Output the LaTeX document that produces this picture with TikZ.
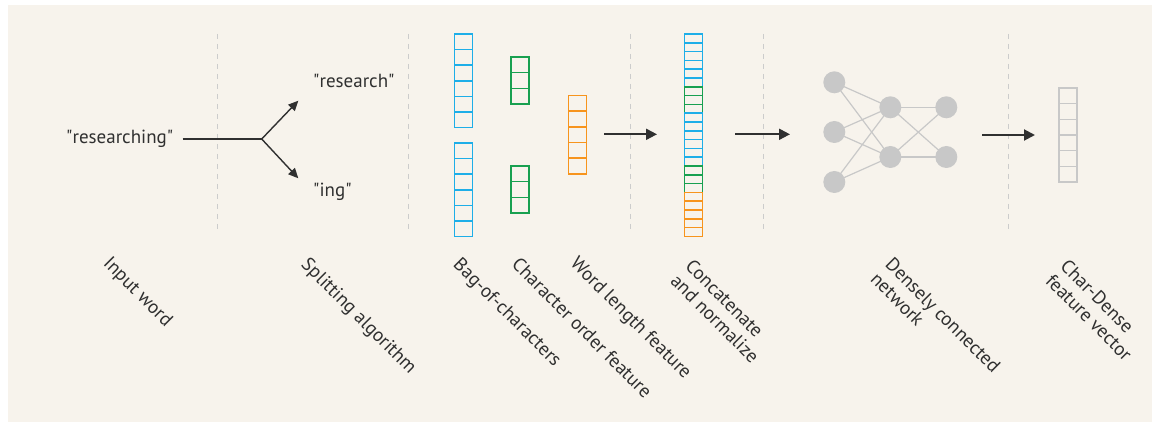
\documentclass[tikz,border=0pt]{standalone}
\usepackage{fontspec}
\setmainfont{PT Sans}
\usetikzlibrary{arrows.meta}

\definecolor{paper}{HTML}{F7F3EC}
\definecolor{ink}{HTML}{303030}
\definecolor{sepgrey}{HTML}{CCCCCC}
\definecolor{boc}{HTML}{1EAEE8}
\definecolor{cof}{HTML}{18A050}
\definecolor{wlf}{HTML}{F7941D}
\definecolor{outgrey}{HTML}{C8C8C8}
\definecolor{netgrey}{HTML}{C8C8C8}

\newcommand{\qq}[1]{\textquotedbl#1\textquotedbl}

\tikzset{
  sep/.style={draw=sepgrey, line width=1pt, dash pattern=on 5pt off 5pt},
  cellbox/.style={draw=none, minimum width=18pt, inner sep=0pt, outer sep=0pt},
  cellline/.style={draw=#1, line width=1.6pt},
  flow/.style={draw=ink, line width=2pt, -{Triangle[length=11pt,width=11pt]}},
  branch/.style={draw=ink, line width=1.4pt, -{Triangle[length=10pt,width=9pt]}},
  word/.style={text=ink, font=\fontsize{19}{22}\selectfont, inner sep=0pt},
  lbl/.style={text=ink, font=\fontsize{19}{21}\selectfont, inner sep=0pt, rotate=-45, anchor=north west, align=left},
  neuron/.style={circle, fill=netgrey, minimum size=22pt, inner sep=0pt},
  wire/.style={draw=netgrey, line width=1.2pt},
}

% a column of cells: #1 name, #2 colour, #3 left x, #4 top y, #5 cell height, #6 count
\newcommand{\cellcolumn}[6]{%
  \foreach \k in {1,...,#6}{%
    \node[cellbox, minimum height=#5pt, anchor=north west]
      (#1-\k) at (#3, {#4+(\k-1)*#5}) {};
    \draw[cellline=#2] (#1-\k.north west) rectangle (#1-\k.south east);
  }%
}

\begin{document}
\begin{tikzpicture}[x=1pt, y=-1pt]
  \useasboundingbox (0,0) rectangle (1160,425);
  \fill[paper] (8,5) rectangle (1152,422);

  % stage separators
  \foreach \sx/\nm in {217.5/s1, 408/s2, 630/s3, 763/s4, 1008/s5}{
    \coordinate (\nm-top) at (\sx,34);
    \coordinate (\nm-bot) at (\sx,232);
    \draw[sep] (\nm-top) -- (\nm-bot);
  }

  % input word and its split
  \node[word, anchor=base west] (input) at (66,143.3) {\qq{researching}};
  \node[word, anchor=base west] (stem) at (313,87.3) {\qq{research}};
  \node[word, anchor=base west] (suffix) at (313,196.7) {\qq{ing}};
  \coordinate (fork) at (261.7,139);
  \coordinate (stemtip) at (298.3,100.7);
  \coordinate (suffixtip) at (298.3,178.3);
  \coordinate (stemline) at (182.5,139);
  \draw[ink, line width=1.4pt] (stemline) -- (fork);
  \draw[branch] (fork) -- (stemtip);
  \draw[branch] (fork) -- (suffixtip);

  % bag-of-characters vectors
  \cellcolumn{bocA}{boc}{454.5}{34}{15.6}{6}
  \cellcolumn{bocB}{boc}{454.5}{143}{15.6}{6}
  % character order vectors
  \cellcolumn{cofA}{cof}{511.2}{57}{15.7}{3}
  \cellcolumn{cofB}{cof}{511.2}{166}{15.7}{3}
  % word length vector
  \cellcolumn{wlf}{wlf}{568.5}{95.5}{15.7}{5}

  % concatenated vector
  \cellcolumn{catA}{boc}{684.5}{34}{8.8}{6}
  \cellcolumn{catB}{cof}{684.5}{86.8}{8.8}{3}
  \cellcolumn{catC}{boc}{684.5}{113.2}{8.8}{6}
  \cellcolumn{catD}{cof}{684.5}{166}{8.8}{3}
  \cellcolumn{catE}{wlf}{684.5}{192.4}{8.8}{5}

  % dense network: wires first, neurons on top
  \coordinate (p11) at (834.3,82.3);
  \coordinate (p12) at (834.3,132);
  \coordinate (p13) at (834.3,182);
  \coordinate (p21) at (890.3,107.3);
  \coordinate (p22) at (890.3,157);
  \coordinate (p31) at (946.3,107.3);
  \coordinate (p32) at (946.3,157);
  \foreach \a in {p11,p12,p13}{
    \foreach \b in {p21,p22}{ \draw[wire] (\a) -- (\b); }
  }
  \foreach \a in {p21,p22}{
    \foreach \b in {p31,p32}{ \draw[wire] (\a) -- (\b); }
  }
  \foreach \nm in {11,12,13,21,22,31,32}{
    \node[neuron] (n\nm) at (p\nm) {};
  }

  % output vector
  \cellcolumn{out}{outgrey}{1059}{88}{15.67}{6}

  % flow arrows
  \coordinate (f1s) at (604,134.3);  \coordinate (f1e) at (657,134.3);
  \coordinate (f2s) at (735,134.3);  \coordinate (f2e) at (790,134.3);
  \coordinate (f3s) at (982,135);    \coordinate (f3e) at (1035,135);
  \draw[flow] (f1s) -- (f1e);
  \draw[flow] (f2s) -- (f2e);
  \draw[flow] (f3s) -- (f3e);

  % stage captions
  \node[lbl] (cap1) at (112,255) {Input word};
  \node[lbl] (cap2) at (310,256) {Splitting algorithm};
  \node[lbl] (cap3) at (462,256) {Bag-of-characters};
  \node[lbl] (cap4) at (520.5,256) {Character order feature};
  \node[lbl] (cap5) at (579,255) {Word length feature};
  \node[lbl] (cap6) at (694,257.5) {Concatenate\\and normalize};
  \node[lbl] (cap7) at (894,256) {Densely connected\\network};
  \node[lbl] (cap8) at (1069,257.5) {Char-Dense\\feature vector};
\end{tikzpicture}
\end{document}
